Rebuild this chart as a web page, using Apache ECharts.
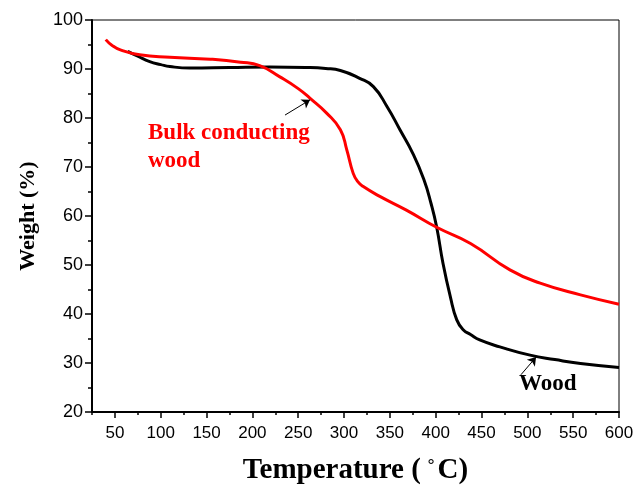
<!DOCTYPE html>
<html>
<head>
<meta charset="utf-8">
<script src="https://cdn.jsdelivr.net/npm/echarts@6/dist/echarts.min.js"></script>
<style>
html,body{margin:0;padding:0;background:#fff;}
#chart{width:644px;height:491px;}
</style>
</head>
<body>
<div id="chart"></div>
<script>
// Temperature (°C) and weight (%)
const woodTemp = [64, 75, 88, 100, 110, 132, 175, 219, 259, 280, 296, 317, 332, 347, 361, 375, 387, 395, 401, 408, 416, 423, 430, 438, 448, 470, 503, 530, 558, 600];
const woodWeight = [93.6, 92.6, 91.5, 90.9, 90.5, 90.2, 90.3, 90.4, 90.3, 90.1, 89.7, 88.1, 86.4, 82.3, 77.6, 72.8, 67.5, 62.5, 57.8, 50.3, 43.5, 38.8, 36.8, 35.8, 34.7, 33.3, 31.6, 30.7, 29.9, 29.1];

const bulkTemp = [40, 47, 56, 77, 110, 154, 187, 208, 230, 250, 263, 281, 296, 303, 310, 315, 321, 339, 368, 401, 438, 481, 514, 558, 600];
const bulkWeight = [96.0, 94.8, 93.9, 92.9, 92.4, 92.0, 91.4, 90.7, 88.4, 86.0, 84.0, 81.0, 77.6, 73.5, 68.7, 67.0, 66.0, 64.0, 61.2, 57.7, 54.4, 49.0, 46.3, 43.9, 42.0];

const xMin = 25, xMax = 600;
const xTickLabels = [50, 100, 150, 200, 250, 300, 350, 400, 450, 500, 550, 600];
const xMinorTicks = [25, 75, 125, 175, 225, 275, 325, 375, 425, 475, 525, 575];
const yMin = 20, yMax = 100;

const seriesNames = ['Wood', 'Bulk conducting wood'];
// arrow annotations [from, to] in data units
const bulkArrow = [[235.6, 80.6], [262.9, 83.7]];
const woodArrow = [[493, 27.6], [509.5, 31.2]];

const pair = (xs, ys) => xs.map((x, i) => [x, ys[i]]);

const chart = echarts.init(document.getElementById('chart'), null, {renderer: 'canvas'});
const sansFont = '"Liberation Sans", Arial, sans-serif';
const serifFont = '"Liberation Serif", "Times New Roman", serif';

const arrowLine = (pts) => ({
  silent: true,
  animation: false,
  symbol: ['none', 'arrow'],
  symbolSize: 8,
  label: {show: false},
  lineStyle: {color: '#000', width: 1, type: 'solid'},
  emphasis: {disabled: true},
  data: [[{coord: pts[0]}, {coord: pts[1]}]]
});

chart.setOption({
  animation: false,
  backgroundColor: '#fff',
  grid: {left: 92, right: 25, top: 20, bottom: 79, containLabel: false, outerBoundsMode: 'none',
         show: true, borderColor: '#000', borderWidth: 1, backgroundColor: 'transparent'},
  xAxis: [
    {
      type: 'value', min: xMin, max: xMax, position: 'bottom',
      axisLine: {show: true, onZero: false, lineStyle: {color: '#000', width: 2}},
      axisTick: {show: true, inside: false, length: 6, customValues: xTickLabels, lineStyle: {color: '#000', width: 1.5}},
      axisLabel: {show: true, customValues: xTickLabels, margin: 13, fontFamily: sansFont, fontSize: 17, color: '#000'},
      splitLine: {show: false},
      name: '{t|Temperature (}{d|˚}{t|C)}',
      nameLocation: 'middle',
      nameGap: 44,
      nameTextStyle: {
        rich: {
          t: {fontFamily: serifFont, fontWeight: 'bold', fontSize: 29, color: '#000'},
          d: {fontFamily: serifFont, fontWeight: 'normal', fontSize: 26, color: '#000', padding: [0, 2, 0, 6]}
        }
      }
    },
    {
      type: 'value', min: xMin, max: xMax, position: 'bottom',
      axisLine: {show: false, onZero: false},
      axisTick: {show: true, inside: false, length: 3, customValues: xMinorTicks, lineStyle: {color: '#000', width: 1.5}},
      axisLabel: {show: false},
      splitLine: {show: false}
    }
  ],
  yAxis: [
    {
      type: 'value', min: yMin, max: yMax, interval: 10,
      axisLine: {show: true, onZero: false, lineStyle: {color: '#000', width: 2}},
      axisTick: {show: true, inside: false, length: 7, lineStyle: {color: '#000', width: 1.5}},
      minorTick: {show: true, splitNumber: 2, length: 4, lineStyle: {color: '#000', width: 1.5}},
      axisLabel: {show: true, margin: 9, fontFamily: sansFont, fontSize: 18, color: '#000'},
      splitLine: {show: false},
      name: 'Weight (%)',
      nameLocation: 'middle',
      nameGap: 53,
      nameRotate: 90,
      nameTextStyle: {fontFamily: serifFont, fontWeight: 'bold', fontSize: 22, color: '#000'}
    }
  ],
  graphic: [
    {type: 'text', left: 148, top: 122, style: {text: 'Bulk conducting', fill: '#ff0000', font: 'bold 23px ' + serifFont}},
    {type: 'text', left: 148, top: 150, style: {text: 'wood', fill: '#ff0000', font: 'bold 23px ' + serifFont}},
    {type: 'text', left: 519, top: 373, style: {text: 'Wood', fill: '#000', font: 'bold 23px ' + serifFont}}
  ],
  series: [
    {
      name: seriesNames[0], type: 'line', xAxisIndex: 0, yAxisIndex: 0,
      data: pair(woodTemp, woodWeight), showSymbol: false, smooth: 0.5,
      lineStyle: {color: '#000', width: 3}, itemStyle: {color: '#000'},
      markLine: arrowLine(woodArrow), z: 3
    },
    {
      name: seriesNames[1], type: 'line', xAxisIndex: 0, yAxisIndex: 0,
      data: pair(bulkTemp, bulkWeight), showSymbol: false, smooth: 0.5,
      lineStyle: {color: '#ff0000', width: 3}, itemStyle: {color: '#ff0000'},
      markLine: arrowLine(bulkArrow), z: 4
    }
  ]
});
</script>
</body>
</html>
